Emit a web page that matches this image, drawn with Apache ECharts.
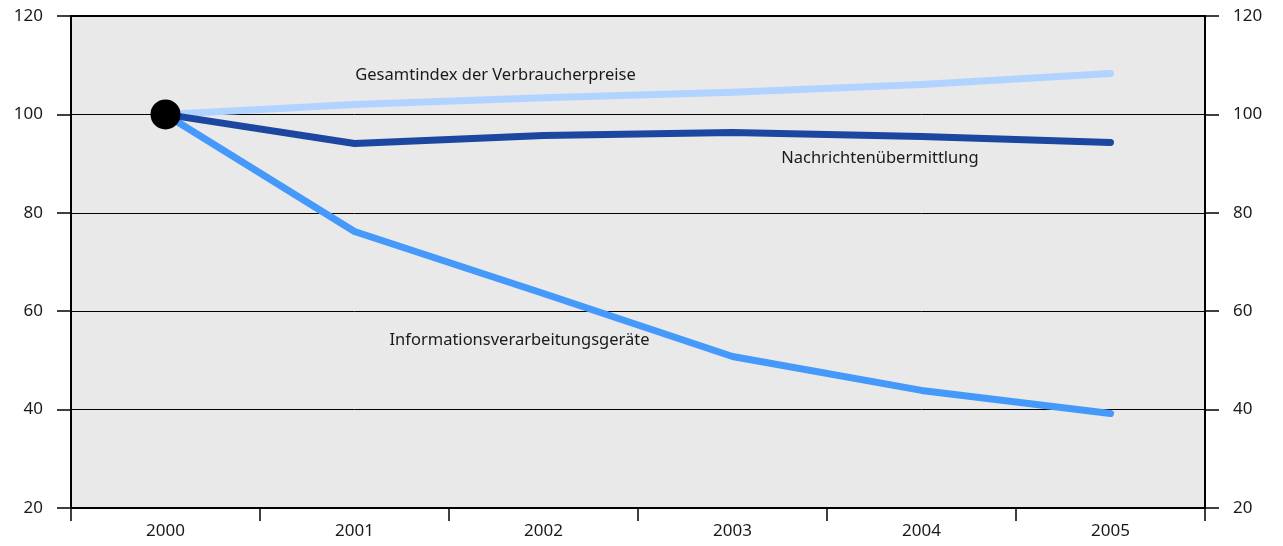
<!DOCTYPE html>
<html>
<head>
<meta charset="utf-8">
<script src="https://cdn.jsdelivr.net/npm/echarts@6/dist/echarts.min.js"></script>
<style>
    html, body { margin: 0; padding: 0; background: #fff; }
    #chart { width: 1283px; height: 546px; }
</style>
</head>
<body>
<div id="chart"></div>
<script>
const years = ["2000", "2001", "2002", "2003", "2004", "2005"];
const gesamtindex = [100, 102.0, 103.4, 104.5, 106.1, 108.3];
const nachrichten = [100, 94.1, 95.7, 96.3, 95.5, 94.3];
const informationsgeraete = [100, 76.2, 63.6, 50.8, 43.9, 39.2];
const yTicks = { min: 20, max: 120, interval: 20 };

// label anchors in data coordinates (category index, value)
const labels = [
    { text: "Gesamtindex der Verbraucherpreise", at: [1.746, 107.9] },
    { text: "Nachrichtenübermittlung", at: [3.78, 91.1] },
    { text: "Informationsverarbeitungsgeräte", at: [1.873, 54.1] },
];

const font = "'Noto Sans', sans-serif";
const textColor = "#1a1a1a";

const yAxisBase = {
    type: "value",
    min: yTicks.min,
    max: yTicks.max,
    interval: yTicks.interval,
    axisLine: { show: false },
    axisTick: { show: true, length: 14, lineStyle: { color: "#000", width: 1.5 } },
    axisLabel: { color: textColor, fontSize: 17, fontFamily: font, margin: 28 },
};

const chart = echarts.init(document.getElementById("chart"));
chart.setOption({
    animation: false,
    grid: {
        left: 71, right: 78, top: 16, bottom: 38,
        show: true, backgroundColor: "#e9e9e9", borderColor: "#000", borderWidth: 2,
    },
    xAxis: {
        type: "category",
        data: years,
        boundaryGap: true,
        axisLine: { show: false },
        axisTick: { show: true, length: 13, lineStyle: { color: "#000", width: 1.5 } },
        axisLabel: { color: textColor, fontSize: 17, fontFamily: font, margin: 15 },
    },
    yAxis: [
        { ...yAxisBase, position: "left",
          splitLine: { show: true, lineStyle: { color: "#000", width: 1 } } },
        { ...yAxisBase, position: "right", splitLine: { show: false } },
    ],
    series: [
        {
            name: "Gesamtindex der Verbraucherpreise",
            type: "line", data: gesamtindex, showSymbol: false,
            lineStyle: { color: "#b0d4ff", width: 7, cap: "round", join: "round" },
        },
        {
            name: "Informationsverarbeitungsgeräte",
            type: "line", data: informationsgeraete, showSymbol: false,
            lineStyle: { color: "#4499fb", width: 7, cap: "round", join: "round" },
        },
        {
            name: "Nachrichtenübermittlung",
            type: "line", data: nachrichten, showSymbol: false,
            lineStyle: { color: "#1b47a1", width: 7, cap: "round", join: "round" },
        },
        {
            type: "scatter", z: 5,
            data: [[years[0], gesamtindex[0]]],
            symbolSize: 30,
            itemStyle: { color: "#000", opacity: 1 },
        },
    ],
});

// category axis rounds fractional indices, so interpolate between two categories
const p0 = chart.convertToPixel({ gridIndex: 0 }, [0, 100]);
const p1 = chart.convertToPixel({ gridIndex: 0 }, [1, 100]);
chart.setOption({
    graphic: labels.map(l => {
        const y = chart.convertToPixel({ yAxisIndex: 0 }, l.at[1]);
        const x = p0[0] + (p1[0] - p0[0]) * l.at[0];
        return {
            type: "text", x: x, y: y, z: 10,
            style: {
                text: l.text, fill: textColor, font: "16.5px " + font,
                align: "center", verticalAlign: "middle",
            },
        };
    }),
});
</script>
</body>
</html>
